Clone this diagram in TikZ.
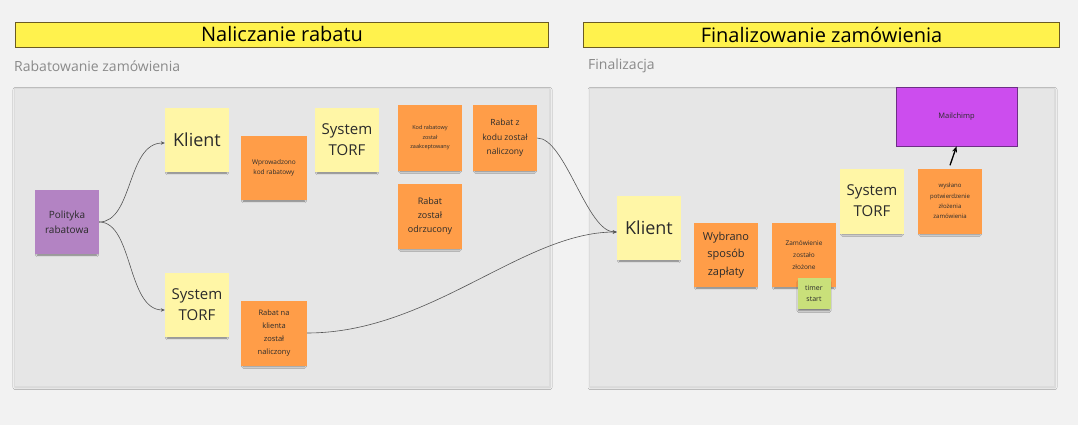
\documentclass[tikz,border=0pt]{standalone}
\usepackage{fontspec}
\setmainfont{Open Sans}
\usetikzlibrary{arrows.meta,shadows.blur}
\definecolor{bgc}{HTML}{F2F2F2}
\definecolor{framefill}{HTML}{E6E6E6}
\definecolor{frameline}{HTML}{DCDCDC}
\definecolor{titlefill}{HTML}{FFF24D}
\definecolor{titleline}{HTML}{6B5B23}
\definecolor{noteyellow}{HTML}{FFF6A6}
\definecolor{noteorange}{HTML}{FF9D48}
\definecolor{notepurple}{HTML}{B383C3}
\definecolor{notegreen}{HTML}{C9E07A}
\definecolor{mailfill}{HTML}{CC4DEE}
\definecolor{mailline}{HTML}{6E2F86}
\definecolor{txt}{HTML}{2B2B2B}
\definecolor{subtxt}{HTML}{8A8A8A}
\definecolor{conncol}{HTML}{555555}
\begin{document}
\begin{tikzpicture}[x=1pt,y=-1pt,
  note/.style={minimum width=64pt,minimum height=64pt,inner sep=1pt,align=center,text=txt,
    blur shadow={shadow xshift=0pt,shadow yshift=-3.5pt,shadow scale=0.93,shadow opacity=50,shadow blur radius=2pt}},
  yel/.style={note,fill=noteyellow},
  ora/.style={note,fill=noteorange},
  titlebar/.style={fill=titlefill,draw=titleline,line width=0.8pt,minimum height=25pt,inner sep=0pt,text=black,font=\fontsize{20}{24}\selectfont},
  subtitle/.style={anchor=west,inner sep=0pt,text=subtxt,font=\fontsize{14}{16}\selectfont},
  framebox/.style={fill=framefill,draw=frameline,line width=0.5pt,
    blur shadow={shadow xshift=1pt,shadow yshift=-1.5pt,shadow opacity=20,shadow blur radius=2pt}},
  conn/.style={draw=conncol,line width=0.6pt,-{Stealth[length=4pt,width=3.5pt]}},
  big/.style={font=\fontsize{18}{22}\selectfont},
  torf/.style={font=\fontsize{15}{21}\selectfont}
]
\useasboundingbox (0,0) rectangle (1078,425);
\fill[bgc] (0,0) rectangle (1078,425);

% titles
\node[titlebar,minimum width=533pt] (t1) at (282,34.5) {Naliczanie rabatu};
\node[titlebar,minimum width=476pt] (t2) at (821.5,34.5) {Finalizowanie zamówienia};
\node[subtitle] (s1) at (14,66) {Rabatowanie zamówienia};
\node[subtitle] (s2) at (588,66) {Finalizacja};

% frames
\draw[framebox] (14,88) rectangle (549,386);
\draw[framebox] (589,88) rectangle (1054,386);

% left notes
\node[note,fill=notepurple,font=\fontsize{10}{15}\selectfont] (pol) at (67,222) {Polityka\\rabatowa};
\node[yel,big] (kl1) at (197,140) {Klient};
\node[ora,minimum width=66pt,font=\fontsize{6.5}{10}\selectfont] (wpr) at (274,168) {Wprowadzono\\kod rabatowy};
\node[yel,torf] (sys1) at (347,140) {System\\TORF};
\node[ora,minimum height=65pt,font=\fontsize{5.5}{9.5}\selectfont] (kod) at (430,138) {Kod rabatowy\\został\\zaakceptowany};
\node[ora,minimum height=65pt,font=\fontsize{8.5}{14.5}\selectfont] (rzk) at (505,138) {Rabat z\\kodu został\\naliczony};
\node[ora,minimum height=65pt,font=\fontsize{9}{14}\selectfont] (odr) at (430,216) {Rabat\\został\\odrzucony};
\node[yel,torf] (sys2) at (197,305) {System\\TORF};
\node[ora,minimum width=66pt,minimum height=65pt,font=\fontsize{7.5}{13}\selectfont] (rnk) at (274,333) {Rabat na\\klienta\\został\\naliczony};

% right notes
\node[yel,big] (kl2) at (649,228) {Klient};
\node[ora,font=\fontsize{11}{17.5}\selectfont] (wyb) at (726,255) {Wybrano\\sposób\\zapłaty};
\node[ora,font=\fontsize{6.5}{12}\selectfont] (zam) at (804,255) {Zamówienie\\zostało\\złożone};
\node[note,fill=notegreen,minimum width=33pt,minimum height=31pt,font=\fontsize{7}{11}\selectfont] (tim) at (814,293) {timer\\start};
\node[yel,torf,minimum height=65pt] (sys3) at (872,201) {System\\TORF};
\node[ora,minimum height=65pt,font=\fontsize{6}{10.3}\selectfont] (wys) at (950,201) {wysłano\\potwierdzenie\\złożenia\\zamówienia};
\node[fill=mailfill,draw=mailline,line width=0.8pt,minimum width=121pt,minimum height=59pt,inner sep=0pt,text=txt,font=\fontsize{7.5}{9}\selectfont] (mail) at (956.5,116.5) {Mailchimp};

% connectors
\draw[conn] (pol.east) .. controls +(34,0) and +(-38,0) .. ([yshift=-3pt]kl1.west);
\draw[conn] (pol.east) .. controls +(34,0) and +(-38,0) .. ([yshift=-5pt]sys2.west);
\draw[conn] (rzk.east) .. controls +(28,0) and +(-30,0) .. ([yshift=-4pt]kl2.west);
\draw[conn] (rnk.east) .. controls +(123,0) and +(-94,0) .. ([yshift=-4pt]kl2.west);
\draw[draw=black,line width=1.3pt,-{Stealth[length=6pt,width=5pt]}] ([yshift=3pt]wys.north) -- (mail.south);
\end{tikzpicture}
\end{document}
